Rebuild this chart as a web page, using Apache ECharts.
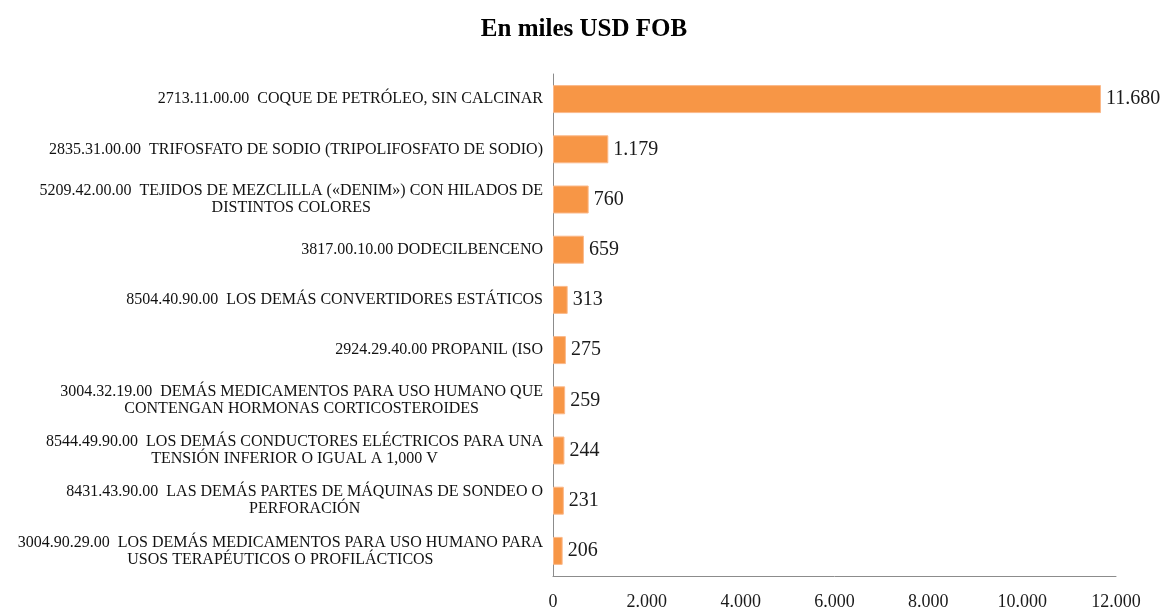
<!DOCTYPE html>
<html>
<head>
<meta charset="utf-8">
<title>En miles USD FOB</title>
<script src="https://cdn.jsdelivr.net/npm/echarts@6/dist/echarts.min.js"></script>
<style>
    html,body{margin:0;padding:0;background:#fff;}
    #main{width:1168px;height:611px;}
</style>
</head>
<body>
<div id="main"></div>
<script>
// partidas (de arriba hacia abajo)
var categorias = [
    '2713.11.00.00  COQUE DE PETRÓLEO, SIN CALCINAR',
    '2835.31.00.00  TRIFOSFATO DE SODIO (TRIPOLIFOSFATO DE SODIO)',
    '5209.42.00.00  TEJIDOS DE MEZCLILLA («DENIM») CON HILADOS DE\nDISTINTOS COLORES',
    '3817.00.10.00 DODECILBENCENO',
    '8504.40.90.00  LOS DEMÁS CONVERTIDORES ESTÁTICOS',
    '2924.29.40.00 PROPANIL (ISO',
    '3004.32.19.00  DEMÁS MEDICAMENTOS PARA USO HUMANO QUE\nCONTENGAN HORMONAS CORTICOSTEROIDES',
    '8544.49.90.00  LOS DEMÁS CONDUCTORES ELÉCTRICOS PARA UNA\nTENSIÓN INFERIOR O IGUAL A 1,000 V',
    '8431.43.90.00  LAS DEMÁS PARTES DE MÁQUINAS DE SONDEO O\nPERFORACIÓN',
    '3004.90.29.00  LOS DEMÁS MEDICAMENTOS PARA USO HUMANO PARA\nUSOS TERAPÉUTICOS O PROFILÁCTICOS'
];
// valores en miles USD FOB
var valores = [11680, 1179, 760, 659, 313, 275, 259, 244, 231, 206];
// eje x
var ejeMin = 0;
var ejeMax = 12000;
var ejeIntervalo = 2000;

var fuente = '"Liberation Serif","DejaVu Serif",serif';

// separador de miles con punto
function miles(v){
    return String(v).replace(/\B(?=(\d{3})+(?!\d))/g, '.');
}

var myChart = echarts.init(document.getElementById('main'));
var option = {
    backgroundColor: '#fff',
    animation: false,
    title: {
        text: 'En miles USD FOB',
        left: 'center',
        top: 12,
        textStyle: {
            fontFamily: fuente,
            fontSize: 25,
            fontWeight: 'bold',
            color: '#000'
        }
    },
    grid: {
        left: 553,
        right: 52,
        top: 74,
        bottom: 34,
        containLabel: false
    },
    xAxis: {
        type: 'value',
        min: ejeMin,
        max: ejeMax,
        interval: ejeIntervalo,
        splitLine: {show: false},
        axisTick: {show: false},
        axisLine: {show: true, lineStyle: {color: '#8c8c8c', width: 1}},
        axisLabel: {
            margin: 17,
            fontFamily: fuente,
            fontSize: 18,
            color: '#1a1a1a',
            formatter: function(v){ return miles(v); }
        }
    },
    yAxis: {
        type: 'category',
        inverse: true,
        data: categorias,
        axisTick: {show: false},
        axisLine: {show: true, lineStyle: {color: '#8c8c8c', width: 1}},
        axisLabel: {
            margin: 10,
            formatter: function(v){
                // cada linea centrada dentro del bloque
                return v.split('\n').map(function(l){ return '{c|' + l + '}'; }).join('\n');
            },
            rich: {
                c: {
                    align: 'center',
                    fontFamily: fuente,
                    fontSize: 16,
                    lineHeight: 17,
                    color: '#111'
                }
            }
        }
    },
    series: [{
        type: 'bar',
        data: valores,
        barWidth: 28,
        itemStyle: {
            color: '#F79646',
            borderColor: '#fbb98a',
            borderWidth: 1
        },
        label: {
            show: true,
            position: 'right',
            distance: 5,
            fontFamily: fuente,
            fontSize: 20,
            color: '#1a1a1a',
            formatter: function(p){ return miles(p.value); }
        }
    }]
};
myChart.setOption(option);
</script>
</body>
</html>
